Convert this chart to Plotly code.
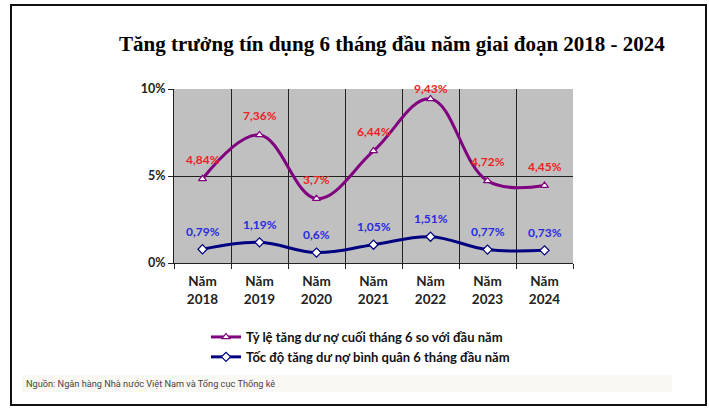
import plotly.graph_objects as go

years = ["2018", "2019", "2020", "2021", "2022", "2023", "2024"]
rate_end_june = [4.84, 7.36, 3.7, 6.44, 9.43, 4.72, 4.45]
avg_speed = [0.79, 1.19, 0.6, 1.05, 1.51, 0.77, 0.73]
name_rate = "Tỷ lệ tăng dư nợ cuối tháng 6 so với đầu năm"
name_avg = "Tốc độ tăng dư nợ bình quân 6 tháng đầu năm"
title_text = "Tăng trưởng tín dụng 6 tháng đầu năm giai đoạn 2018 - 2024"
source_text = "Nguồn: Ngân hàng Nhà nước Việt Nam và Tổng cục Thống kê"
y_ticks = [0, 5, 10]
y_ticktext = ["0%", "5%", "10%"]

W, H = 709, 408
L, R, T, B = 174, 136, 89, 145
PW, PH = W - L - R, H - T - B


def px(x):
    return (x - L) / PW


def py(y):
    return (H - B - y) / PH


cats = ["Năm<br>" + y for y in years]

fig = go.Figure()
fig.add_trace(go.Scatter(
    x=cats, y=rate_end_june, name=name_rate, mode="lines+markers",
    line=dict(color="#800080", width=3, shape="spline", smoothing=1.1),
    marker=dict(symbol="triangle-up", size=7, color="white",
                line=dict(color="#800080", width=1.2)),
))
fig.add_trace(go.Scatter(
    x=cats, y=avg_speed, name=name_avg, mode="lines+markers",
    line=dict(color="#000080", width=3, shape="spline", smoothing=1.1),
    marker=dict(symbol="diamond", size=7, color="white",
                line=dict(color="#000080", width=1.2)),
))

ann = []
for c, v in zip(cats, rate_end_june):
    ann.append(dict(x=c, y=v, xref="x", yref="y", text=str(v).replace(".", ",") + "%",
                    showarrow=False, yshift=19 if v < 9 else 10,
                    font=dict(family="Lato", size=12, color="#EE2222", weight=700)))
for c, v in zip(cats, avg_speed):
    ann.append(dict(x=c, y=v, xref="x", yref="y", text=str(v).replace(".", ",") + "%",
                    showarrow=False, yshift=18,
                    font=dict(family="Lato", size=12, color="#2A2AE0", weight=700)))
ann.append(dict(x=px(392), y=py(44), xref="paper", yref="paper", text=title_text,
                showarrow=False, xanchor="center", yanchor="middle",
                font=dict(family="Liberation Serif", size=21, color="black", weight=700)))
ann.append(dict(x=px(24), y=py(383), xref="paper", yref="paper", text=source_text,
                showarrow=False, xanchor="left", yanchor="middle",
                font=dict(family="Roboto", size=9.2, color="#444444")))

shapes = [
    dict(type="rect", xref="paper", yref="paper", x0=px(22), x1=px(672), y0=py(375), y1=py(392),
         fillcolor="#FAF8F2", line=dict(width=0), layer="below"),
    dict(type="rect", xref="paper", yref="paper", x0=px(11), x1=px(706), y0=py(5), y1=py(405),
         fillcolor="rgba(0,0,0,0)", line=dict(color="#111111", width=2)),
]

fig.update_layout(
    width=W, height=H,
    margin=dict(l=L, r=R, t=T, b=B, pad=0),
    paper_bgcolor="white", plot_bgcolor="#C0C0C0",
    annotations=ann, shapes=shapes,
    showlegend=True,
    legend=dict(x=px(206), y=py(322), xanchor="left", yanchor="top",
                font=dict(family="Lato", size=13, color="#111111", weight=700),
                bgcolor="rgba(0,0,0,0)", itemwidth=30, tracegroupgap=0),
    xaxis=dict(type="category", tickson="boundaries", range=[-0.5, 6.5],
               showgrid=True, gridcolor="#222222", gridwidth=1,
               showline=True, linecolor="#222222", linewidth=1,
               ticks="outside", ticklen=5, tickcolor="#222222", ticklabelstandoff=6,
               tickfont=dict(family="Lato", size=13.5, color="#222222", weight=700)),
    yaxis=dict(range=[0, 10], tickvals=y_ticks, ticktext=y_ticktext,
               showgrid=True, gridcolor="#222222", gridwidth=1, zeroline=False,
               showline=True, linecolor="#222222", linewidth=1,
               ticks="outside", ticklen=5, tickcolor="#222222",
               tickfont=dict(family="Lato", size=12.5, color="#222222", weight=700)),
)

fig.write_html("out.html")
